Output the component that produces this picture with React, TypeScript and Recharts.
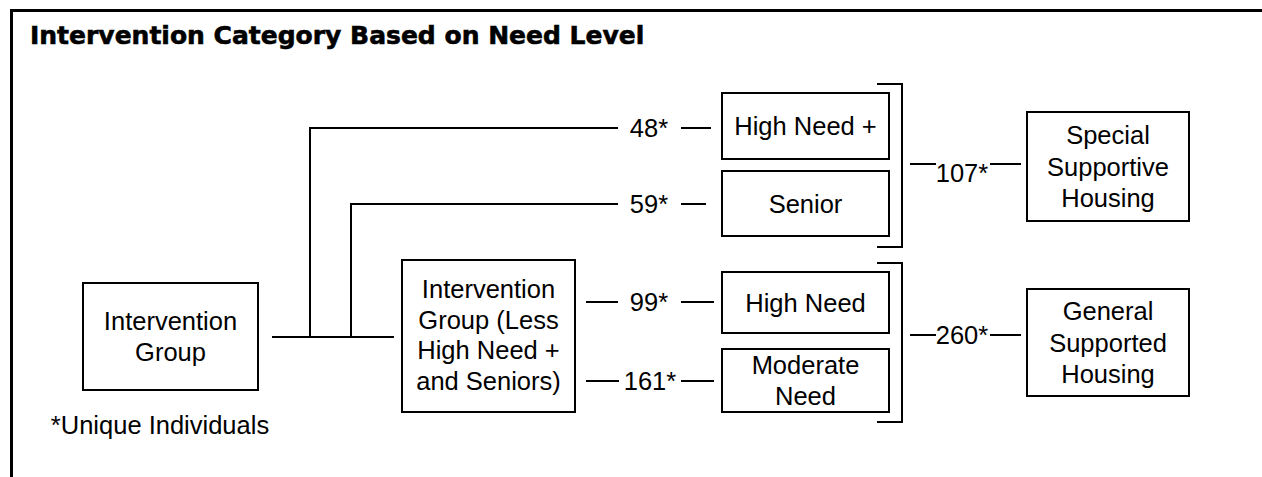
import React from 'react';
import { ComposedChart, XAxis, YAxis, ReferenceArea, ReferenceLine, Scatter } from 'recharts';

// ---------- data ----------
const titleText = 'Intervention Category Based on Need Level';
const footnoteText = '*Unique Individuals';
const sourceLabel = ['Intervention', 'Group'];
const remainderLabel = ['Intervention', 'Group (Less', 'High Need +', 'and Seniors)'];
const categoryLabels = [['High Need +'], ['Senior'], ['High Need'], ['Moderate', 'Need']];
const categoryCounts = [48, 59, 99, 161];
const housingLabels = [['Special', 'Supportive', 'Housing'], ['General', 'Supported', 'Housing']];
const housingCounts = [107, 260];

// ---------- layout (pixel positions, 1:1 with axis domains) ----------
const W = 1262;
const H = 477;
const FONT = '"Liberation Sans", Arial, Helvetica, sans-serif';
const FS = 25.5;
const LH = 31.5;

type Box = { x1: number; x2: number; y1: number; y2: number };
const sourceBox: Box = { x1: 83, x2: 258, y1: 283, y2: 390 };
const remainderBox: Box = { x1: 402, x2: 575, y1: 260, y2: 412 };
const categoryBoxes: Box[] = [
  { x1: 722, x2: 889, y1: 93, y2: 159 },
  { x1: 722, x2: 889, y1: 171, y2: 236 },
  { x1: 722, x2: 889, y1: 272, y2: 333 },
  { x1: 722, x2: 889, y1: 349, y2: 412 },
];
const housingBoxes: Box[] = [
  { x1: 1027, x2: 1189, y1: 112, y2: 221 },
  { x1: 1027, x2: 1189, y1: 289, y2: 396 },
];
const categoryCountPos = [
  { x: 649, y: 128 },
  { x: 649, y: 204 },
  { x: 649, y: 302 },
  { x: 650, y: 381 },
];
const housingCountPos = [
  { x: 962, y: 173 },
  { x: 962, y: 335 },
];

type Seg = [number, number, number, number];
const connectors: Seg[] = [
  [273, 337, 393, 337],
  [310, 337, 310, 128],
  [310, 128, 617, 128],
  [351, 337, 351, 204],
  [351, 204, 617, 204],
  [682, 128, 710, 128],
  [682, 204, 705, 204],
  [587, 302, 617, 302],
  [682, 302, 713, 302],
  [587, 381, 618, 381],
  [682, 381, 713, 381],
  [878, 84, 902, 84],
  [902, 84, 902, 247],
  [878, 247, 902, 247],
  [878, 263, 902, 263],
  [902, 263, 902, 422],
  [878, 422, 902, 422],
  [911, 164, 935, 164],
  [991, 164, 1020, 164],
  [911, 335, 935, 335],
  [991, 335, 1020, 335],
];
const frame: Seg[] = [
  [10, 10.5, W, 10.5],
  [11.5, 9, 11.5, H],
];

// ---------- derived tables ----------
const center = (b: Box) => ({ x: (b.x1 + b.x2) / 2, y: (b.y1 + b.y2) / 2 });
const nodeData = [
  { ...center(sourceBox), lines: sourceLabel },
  { ...center(remainderBox), y: 335, lines: remainderLabel, lh: 30.5 },
  ...categoryBoxes.map((b, i) => ({ ...center(b), lines: categoryLabels[i] })),
  ...housingBoxes.map((b, i) => ({ ...center(b), lines: housingLabels[i] })),
];
const countData = [
  ...categoryCounts.map((v, i) => ({ ...categoryCountPos[i], label: `${v}*` })),
  ...housingCounts.map((v, i) => ({ ...housingCountPos[i], label: `${v}*` })),
];
const titleData = [{ x: 30, y: 44, label: titleText }];
const footData = [{ x: 160, y: 425, label: footnoteText }];
const allBoxes: Box[] = [sourceBox, remainderBox, ...categoryBoxes, ...housingBoxes];

const NodeText = (p: any) => {
  const lines: string[] = p.payload.lines;
  const lh = p.payload.lh ?? LH;
  const start = p.cy - ((lines.length - 1) * lh) / 2;
  return (
    <text textAnchor="middle" fontFamily={FONT} fontSize={FS} fill="#000">
      {lines.map((l, i) => (
        <tspan key={i} x={p.cx} y={start + i * lh} dominantBaseline="central">
          {l}
        </tspan>
      ))}
    </text>
  );
};

const CountText = (p: any) => (
  <text x={p.cx} y={p.cy} textAnchor="middle" dominantBaseline="central" fontFamily={FONT} fontSize={FS} fill="#000">
    {p.payload.label}
  </text>
);

const TitleText = (p: any) => (
  <text x={p.cx} y={p.cy} textAnchor="start" fontFamily='"DejaVu Sans", sans-serif' fontWeight={700} fontSize={25} fill="#000" stroke="#000" strokeWidth={0.6}>
    {p.payload.label}
  </text>
);

const FootText = (p: any) => (
  <text x={p.cx} y={p.cy} textAnchor="middle" dominantBaseline="central" fontFamily={FONT} fontSize={FS} fill="#000">
    {p.payload.label}
  </text>
);

export default function App() {
  return (
    <div style={{ position: 'absolute', left: 0, top: 0, width: W, height: H, background: '#fff' }}>
      <ComposedChart width={W} height={H} margin={{ top: 0, right: 0, bottom: 0, left: 0 }}>
        <XAxis type="number" dataKey="x" domain={[0, W]} hide allowDataOverflow />
        <YAxis type="number" dataKey="y" domain={[0, H]} reversed hide allowDataOverflow />
        {frame.map((s, i) => (
          <ReferenceLine
            key={`f${i}`}
            segment={[{ x: s[0], y: s[1] }, { x: s[2], y: s[3] }]}
            stroke="#000"
            strokeWidth={3}
            ifOverflow="visible"
          />
        ))}
        {allBoxes.map((b, i) => (
          <ReferenceArea
            key={`b${i}`}
            x1={b.x1}
            x2={b.x2}
            y1={b.y1}
            y2={b.y2}
            fill="none"
            fillOpacity={0}
            stroke="#000"
            strokeWidth={2}
            strokeOpacity={1}
            ifOverflow="visible"
          />
        ))}
        {connectors.map((s, i) => (
          <ReferenceLine
            key={`c${i}`}
            segment={[{ x: s[0], y: s[1] }, { x: s[2], y: s[3] }]}
            stroke="#000"
            strokeWidth={2}
            strokeLinecap="square"
            ifOverflow="visible"
          />
        ))}
        <Scatter data={nodeData} shape={NodeText} isAnimationActive={false} />
        <Scatter data={countData} shape={CountText} isAnimationActive={false} />
        <Scatter data={titleData} shape={TitleText} isAnimationActive={false} />
        <Scatter data={footData} shape={FootText} isAnimationActive={false} />
      </ComposedChart>
    </div>
  );
}
